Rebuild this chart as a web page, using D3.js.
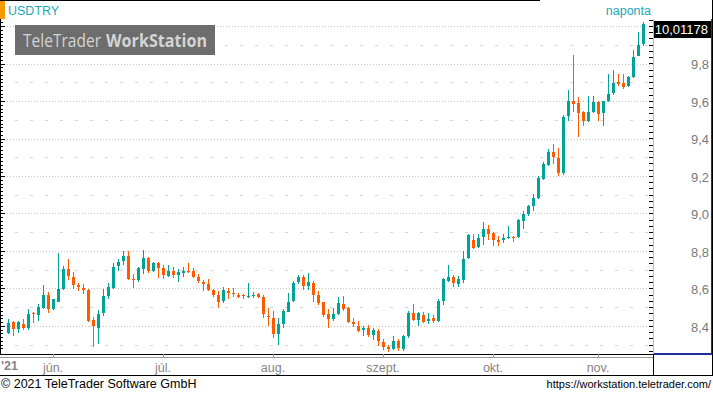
<!DOCTYPE html>
<html><head><meta charset="utf-8">
<script src="https://cdn.jsdelivr.net/npm/d3@7"></script>
<style>
html,body{margin:0;padding:0;background:#fff;}
svg{display:block;font-family:"Liberation Sans",Arial,sans-serif;}
</style></head>
<body>
<svg id="c" width="713" height="393"></svg>
<script>
// ---- data ----
const symbol = "USDTRY";
const period = "naponta";
const lastPriceLabel = "10,01178";
const logoRegular = "TeleTrader";
const logoBold = "WorkStation";
const startDate = "2021-05-19", endDate = "2021-11-12";
const open  = [8.361,8.420,8.386,8.409,8.389,8.469,8.459,8.498,8.564,8.492,8.528,8.596,8.702,8.663,8.617,8.601,8.592,8.432,8.389,8.471,8.560,8.604,8.720,8.745,8.773,8.651,8.644,8.702,8.764,8.692,8.738,8.708,8.667,8.692,8.672,8.683,8.692,8.692,8.661,8.635,8.622,8.590,8.564,8.532,8.587,8.578,8.565,8.564,8.553,8.560,8.569,8.556,8.455,8.444,8.356,8.409,8.476,8.533,8.635,8.661,8.613,8.631,8.565,8.526,8.462,8.436,8.462,8.517,8.496,8.421,8.400,8.379,8.389,8.354,8.373,8.315,8.290,8.276,8.320,8.276,8.347,8.471,8.432,8.459,8.428,8.444,8.427,8.535,8.642,8.661,8.624,8.645,8.761,8.859,8.820,8.873,8.917,8.894,8.859,8.859,8.869,8.876,8.873,8.962,8.997,9.040,9.083,9.184,9.260,9.326,9.296,9.216,9.522,9.598,9.589,9.540,9.495,9.541,9.595,9.536,9.598,9.643,9.701,9.696,9.678,9.726,9.842,9.904];
const high  = [8.436,8.425,8.424,8.436,8.489,8.475,8.516,8.617,8.581,8.546,8.788,8.720,8.756,8.688,8.631,8.622,8.596,8.450,8.485,8.596,8.631,8.734,8.759,8.800,8.800,8.676,8.716,8.804,8.770,8.743,8.743,8.724,8.724,8.713,8.702,8.713,8.734,8.708,8.676,8.645,8.649,8.596,8.587,8.610,8.601,8.604,8.578,8.569,8.628,8.583,8.578,8.564,8.494,8.478,8.444,8.492,8.574,8.640,8.670,8.670,8.684,8.640,8.587,8.530,8.489,8.498,8.555,8.560,8.500,8.441,8.427,8.400,8.405,8.387,8.384,8.331,8.299,8.347,8.331,8.352,8.480,8.517,8.476,8.473,8.467,8.459,8.544,8.654,8.725,8.672,8.667,8.802,8.889,8.891,8.889,8.953,8.939,8.901,8.880,8.891,8.933,8.880,8.971,9.013,9.045,9.104,9.200,9.273,9.344,9.371,9.351,9.527,9.660,9.847,9.621,9.545,9.625,9.625,9.598,9.600,9.746,9.764,9.744,9.744,9.731,9.870,9.968,10.021];
const low   = [8.356,8.347,8.361,8.379,8.379,8.418,8.427,8.489,8.471,8.485,8.528,8.592,8.645,8.596,8.587,8.572,8.421,8.288,8.306,8.453,8.542,8.599,8.693,8.724,8.645,8.601,8.635,8.677,8.681,8.688,8.654,8.649,8.661,8.654,8.635,8.661,8.683,8.654,8.629,8.587,8.587,8.555,8.494,8.521,8.546,8.555,8.548,8.542,8.548,8.548,8.548,8.441,8.400,8.336,8.297,8.391,8.473,8.528,8.626,8.592,8.590,8.528,8.512,8.450,8.388,8.427,8.457,8.482,8.418,8.393,8.370,8.348,8.343,8.325,8.295,8.272,8.263,8.272,8.269,8.269,8.338,8.427,8.400,8.418,8.411,8.418,8.423,8.512,8.635,8.610,8.610,8.631,8.757,8.811,8.814,8.832,8.859,8.827,8.827,8.844,8.864,8.850,8.869,8.917,8.988,9.015,9.077,9.179,9.255,9.266,9.200,9.207,9.495,9.541,9.408,9.468,9.488,9.536,9.495,9.468,9.596,9.634,9.682,9.664,9.675,9.723,9.838,9.891];
const close = [8.414,8.382,8.420,8.388,8.462,8.464,8.500,8.564,8.489,8.542,8.596,8.702,8.667,8.617,8.608,8.592,8.427,8.400,8.462,8.560,8.608,8.716,8.741,8.773,8.649,8.645,8.708,8.764,8.692,8.738,8.709,8.672,8.692,8.672,8.686,8.692,8.686,8.661,8.638,8.624,8.592,8.565,8.528,8.590,8.574,8.572,8.556,8.558,8.558,8.565,8.556,8.462,8.452,8.356,8.409,8.480,8.528,8.628,8.661,8.613,8.635,8.565,8.521,8.457,8.436,8.462,8.521,8.491,8.421,8.411,8.375,8.391,8.354,8.379,8.322,8.290,8.279,8.320,8.284,8.347,8.471,8.432,8.471,8.423,8.439,8.428,8.535,8.649,8.663,8.628,8.651,8.757,8.885,8.814,8.868,8.917,8.891,8.859,8.850,8.871,8.876,8.871,8.965,8.997,9.040,9.083,9.188,9.264,9.326,9.300,9.218,9.515,9.598,9.586,9.536,9.495,9.540,9.595,9.531,9.598,9.637,9.696,9.692,9.675,9.726,9.833,9.897,10.01178];
const priceTicks = [8.4,8.6,8.8,9.0,9.2,9.4,9.6,9.8];
const priceTickLabels = ["8,4","8,6","8,8","9,0","9,2","9,4","9,6","9,8"];
const monthTickDates = ["2021-06-01","2021-07-01","2021-08-02","2021-09-01","2021-10-01","2021-11-01"];
const monthLabels = ["jún.","júl.","aug.","szept.","okt.","nov."];
const yearLabel = "'21";
const footerLeft = "© 2021 TeleTrader Software GmbH";
const footerRight = "https://workstation.teletrader.com/";

// ---- build ----
const fmt = d3.timeFormat("%Y-%m-%d");
const dates = d3.timeDay.range(new Date(startDate+"T00:00"), d3.timeDay.offset(new Date(endDate+"T00:00"),1))
  .filter(d => d.getDay()!==0 && d.getDay()!==6).map(fmt);
const data = dates.map((d,i)=>({d, o:open[i], h:high[i], l:low[i], c:close[i]}));

const TEAL="#00a398", ORANGE="#ff5a00";
const plotR=653;

const svg=d3.select("#c");
const x=d3.scaleBand().domain(dates).range([5.5,645.5]).padding(0);
const y=d3.scaleLinear().domain([8.2613,10.0427]).range([352,18]);
const cx=d=>Math.round(x(d)+x.bandwidth()/2);

// gridlines major (dotted) and minor (dashed)
const gridMajor=d3.range(8.4,10.01,0.2);
const gridMinor=d3.range(8.3,10.01,0.2);
svg.append("g").selectAll("line").data(gridMajor).join("line")
  .attr("x1",4).attr("x2",plotR).attr("y1",d=>Math.round(y(d))+0.5).attr("y2",d=>Math.round(y(d))+0.5)
  .attr("stroke","#c4c4c4").attr("stroke-dasharray","1,2");
svg.append("g").selectAll("line").data(gridMinor).join("line")
  .attr("x1",15).attr("x2",plotR).attr("y1",d=>Math.round(y(d))+0.5).attr("y2",d=>Math.round(y(d))+0.5)
  .attr("stroke","#d6d6d6").attr("stroke-dasharray","3,12");

// logo
const logo=svg.append("g").attr("font-family","'Open Sans','Noto Sans',sans-serif").attr("fill","#d4d4d4");
logo.append("rect").attr("x",15).attr("y",25).attr("width",200).attr("height",30).attr("fill","#6d6d6d");
logo.append("text").attr("x",23).attr("y",46.5).attr("font-size",18)
  .attr("textLength",78).attr("lengthAdjust","spacingAndGlyphs").text(logoRegular);
logo.append("text").attr("x",106).attr("y",46.5).attr("font-size",18).attr("font-weight","bold")
  .attr("textLength",101).attr("lengthAdjust","spacingAndGlyphs").text(logoBold);

// candles
const g=svg.append("g").attr("shape-rendering","crispEdges");
g.selectAll("line").data(data).join("line")
  .attr("x1",d=>cx(d.d)+0.5).attr("x2",d=>cx(d.d)+0.5)
  .attr("y1",d=>y(d.h)).attr("y2",d=>y(d.l))
  .attr("stroke",d=>d.c>=d.o?TEAL:ORANGE).attr("stroke-width",1);
g.selectAll("rect").data(data).join("rect")
  .attr("x",d=>cx(d.d)-1).attr("width",3)
  .attr("y",d=>y(Math.max(d.o,d.c)))
  .attr("height",d=>Math.max(1,Math.abs(y(d.o)-y(d.c))))
  .attr("fill",d=>d.c>=d.o?TEAL:ORANGE);

// left axis line and ticks
const la=svg.append("g").attr("shape-rendering","crispEdges");
la.append("line").attr("x1",0.5).attr("x2",0.5).attr("y1",19).attr("y2",354).attr("stroke","#000");
la.selectAll("line.t").data(d3.range(8.28,10.04,0.02)).join("line").attr("class","t")
  .attr("x1",0).attr("x2",d=>Math.abs(Math.round(d*10)/10-d)<0.001 && Math.round(d*10)%2===0?5:3)
  .attr("y1",d=>Math.round(y(d))+0.5).attr("y2",d=>Math.round(y(d))+0.5).attr("stroke","#000");

// right axis
const ra=svg.append("g").attr("shape-rendering","crispEdges");
ra.selectAll("line.t").data(d3.range(8.2667,10.04,0.2/6)).join("line").attr("class","t")
  .attr("x1",649).attr("x2",653)
  .attr("y1",d=>Math.round(y(d))+0.5).attr("y2",d=>Math.round(y(d))+0.5).attr("stroke","#000");
ra.append("line").attr("x1",653.5).attr("x2",653.5).attr("y1",19).attr("y2",354).attr("stroke","#f2c300");
ra.append("line").attr("x1",711.5).attr("x2",711.5).attr("y1",19).attr("y2",354).attr("stroke","#1f2d9e").attr("stroke-width",1.5);
ra.append("line").attr("x1",654).attr("x2",712).attr("y1",353.5).attr("y2",353.5).attr("stroke","#1f2d9e").attr("stroke-width",2);

const yAxis=d3.axisRight(y).tickValues(priceTicks).tickFormat((d,i)=>priceTickLabels[i]).tickSize(0).tickPadding(0);
const yg=svg.append("g").attr("transform","translate(709,1)").call(yAxis);
yg.select(".domain").remove();
yg.selectAll("text").attr("text-anchor","end").attr("fill","#7a7a7a").attr("font-size",13)
  .attr("font-family","'Liberation Sans',Arial,sans-serif");

// last price box
const lastY=y(close[close.length-1]);
svg.append("rect").attr("x",654).attr("y",Math.round(lastY)-3).attr("width",57).attr("height",17).attr("fill","#000");
svg.append("text").attr("x",708).attr("y",Math.round(lastY)+10).attr("text-anchor","end")
  .attr("font-size",13).attr("fill","#fff").text(lastPriceLabel);

// header
svg.append("rect").attr("x",0).attr("y",0).attr("width",5).attr("height",19).attr("fill","#f59a00");
svg.append("line").attr("x1",0).attr("x2",540).attr("y1",0.5).attr("y2",0.5).attr("stroke","#000").attr("shape-rendering","crispEdges");
svg.append("text").attr("x",8).attr("y",15).attr("font-size",12.5).attr("fill","#1aaab8").text(symbol);
svg.append("text").attr("x",651).attr("y",15).attr("text-anchor","end").attr("font-size",12.5).attr("fill","#1aaab8").text(period);

// bottom axis frame
const fr=svg.append("g").attr("shape-rendering","crispEdges");
fr.append("line").attr("x1",0).attr("x2",653).attr("y1",354.5).attr("y2",354.5).attr("stroke","#000");
fr.append("line").attr("x1",0).attr("x2",653).attr("y1",357.5).attr("y2",357.5).attr("stroke","#9a9a9a");
fr.append("line").attr("x1",0).attr("x2",713).attr("y1",375.5).attr("y2",375.5).attr("stroke","#000");
fr.append("line").attr("x1",653.5).attr("x2",653.5).attr("y1",354).attr("y2",376).attr("stroke","#000");
fr.append("line").attr("x1",712.5).attr("x2",712.5).attr("y1",0).attr("y2",376).attr("stroke","#000");

const xAxis=d3.axisBottom(x).tickValues(monthTickDates).tickFormat((d,i)=>monthLabels[i]).tickSize(3).tickPadding(6);
const xg=svg.append("g").attr("transform","translate(0,354)").call(xAxis);
xg.select(".domain").remove();
xg.selectAll(".tick line").attr("stroke","#9a9a9a").attr("shape-rendering","crispEdges");
xg.selectAll("text").attr("fill","#858585").attr("font-size",12.5).attr("font-family","'Liberation Sans',Arial,sans-serif");
svg.append("text").attr("x",1).attr("y",370).attr("font-size",12.5).attr("font-weight","bold").attr("fill","#858585").text(yearLabel);

// footer
svg.append("text").attr("x",1).attr("y",388).attr("font-size",12.5).attr("fill","#000").text(footerLeft);
svg.append("text").attr("x",711).attr("y",388).attr("text-anchor","end").attr("font-size",11).attr("fill","#000").text(footerRight);
</script>
</body></html>
